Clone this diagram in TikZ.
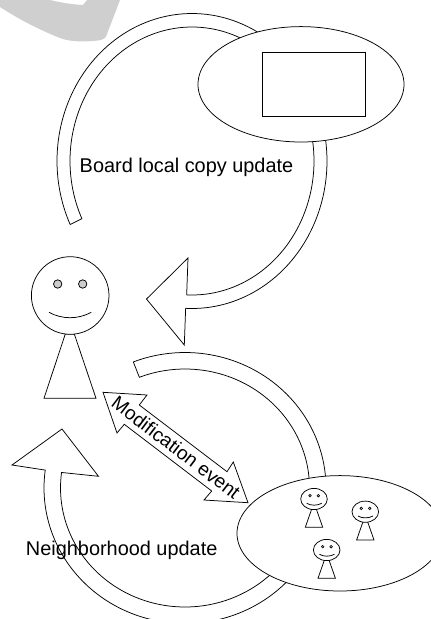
\documentclass[tikz,border=0pt]{standalone}
\usepackage{fontspec}
\setmainfont{Liberation Sans}
\tikzset{
  outline/.style={draw=black,fill=white,line width=0.75pt,line join=miter},
  eye/.style={draw=black,fill=black!20,line width=0.75pt},
  smalleye/.style={draw=black,fill=black!20,line width=0.6pt},
  label text/.style={inner sep=0pt,font=\fontsize{19.9}{22}\selectfont,text=black},
  slant text/.style={inner sep=0pt,font=\fontsize{19.3}{22}\selectfont,text=black},
}
\newcommand{\smallperson}[2]{%
  \begin{scope}[shift={(#1,#2)}]
    \draw[outline] (311.7,509) -- (305.3,527.3) -- (322.7,527.3) -- (316.3,509) -- cycle;
    \draw[outline] (314,499) circle[x radius=13.3,y radius=10.6];
    \draw[smalleye] (310,495.7) circle[radius=1.3];
    \draw[smalleye] (318.4,495.7) circle[radius=1.3];
    \draw[line width=0.75pt] (306.7,503.3) .. controls (311,505.8) and (317,505.8) .. (321.7,503.3);
  \end{scope}}
\begin{document}
\begin{tikzpicture}[x=1pt,y=-1pt]
\useasboundingbox (0,0) rectangle (431,619);
\fill[white] (0,0) rectangle (431,619);
\clip (0,0) rectangle (431,619);
% grey remnant at the top
\fill[black!19] (0,0) -- (50,0) .. controls (60,2.5) and (72,4.5) .. (83,5) -- (87,0) -- (120,0)
  -- (107,34) .. controls (106,38) and (103,40) .. (98,40.5)
  .. controls (85,42) and (70,42) .. (60,38) .. controls (40,30) and (20,20) .. (0,7) -- cycle;
% upper curved arrow
\draw[outline] plot[domain=154.5:452.7,samples=160,variable=\t] ({192+135*cos(\t)},{161+147.5*sin(\t)})
  -- (184.3,345) -- (146.5,299) -- (188,258) --
  plot[domain=452.5:154.5,samples=160,variable=\t] ({192+122*cos(\t)},{161+134*sin(\t)}) -- cycle;
% board ellipse
\draw[outline] (301,84.3) circle[x radius=103,y radius=57.7];
\draw[outline] (262.5,52) rectangle (365.5,116);
% lower curved arrow
\draw[outline] plot[domain=248.5:547.6,samples=160,variable=\t] ({185+141*cos(\t)},{488+135.5*sin(\t)})
  -- (12,465) -- (62,429) -- (98.5,476.3) --
  plot[domain=547.5:248.5,samples=160,variable=\t] ({185+124.5*cos(\t)},{488+119*sin(\t)}) -- cycle;
% main person
\draw[outline] (65.3,334) -- (44,398.3) -- (96,398.3) -- (74.3,334) -- cycle;
\draw[outline] (70.2,295.5) circle[radius=38.8];
\draw[eye] (57.7,284) circle[radius=4.2];
\draw[eye] (82.7,284) circle[radius=4.2];
\draw[line width=0.75pt] (49,312.3) .. controls (62,319.5) and (78,319.5) .. (91.3,312.3);
% double arrow
\draw[outline] (103,392.3) -- (147,395) -- (139.3,405) -- (227,471.7) -- (233.3,462) -- (248,502.7)
  -- (204,500) -- (211.7,491) -- (124.3,424.3) -- (117,433) -- cycle;
\node[slant text,rotate=-37.4] (modlabel) at (176,447.5) {Modification event};
% neighbourhood ellipse
\draw[outline] (340,533.3) circle[x radius=103,y radius=57.7];
\smallperson{0}{0}
\smallperson{51.3}{12.7}
\smallperson{12.7}{51}
% labels
\node[label text,anchor=base] (boardlabel) at (186.5,172) {Board local copy update};
\node[label text,anchor=base] (nblabel) at (121.7,555) {Neighborhood update};
\end{tikzpicture}
\end{document}
